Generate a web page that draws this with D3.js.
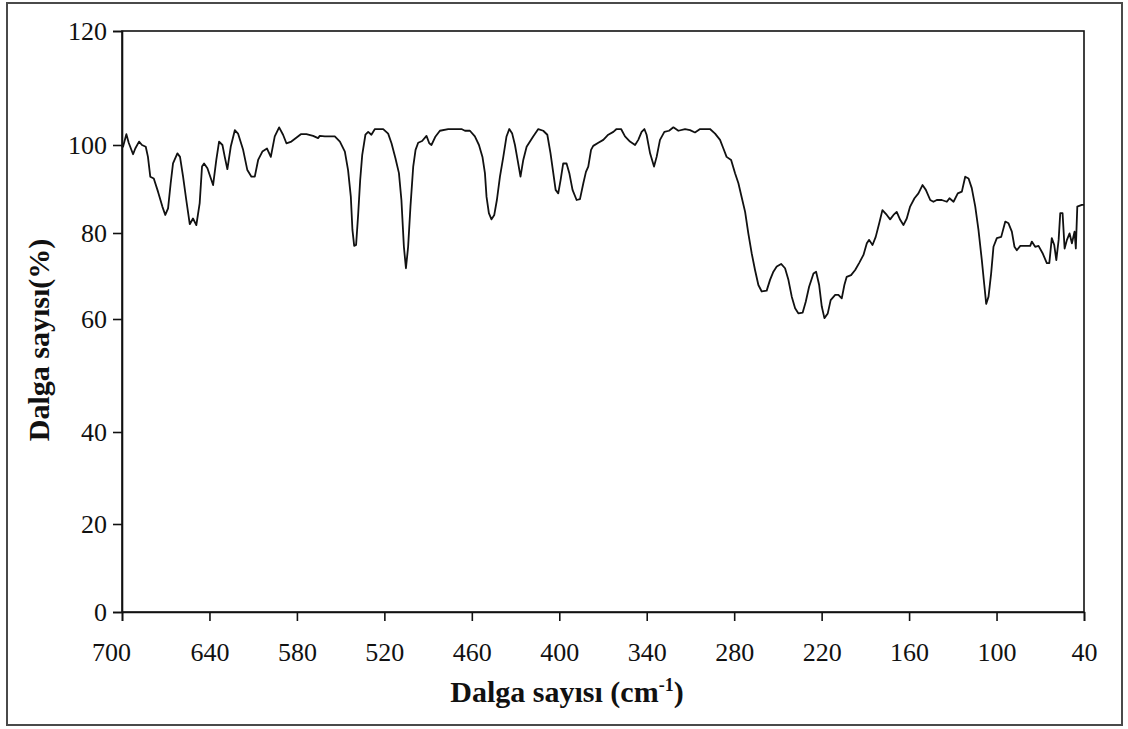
<!DOCTYPE html>
<html>
<head>
<meta charset="utf-8">
<script src="https://cdn.jsdelivr.net/npm/d3@7"></script>
<style>
  html, body { margin: 0; padding: 0; background: #fff; }
  svg { display: block; }
</style>
</head>
<body>
<svg id="chart" width="1128" height="729"></svg>
<script>
// Far-IR spectrum: wavenumber (cm-1) and transmittance (%)
const wavenumber = [
  700, 699.3, 697.0, 695.4, 692.4, 690.9, 688.3, 686.3, 683.7, 682.2,
  680.6, 678.2, 675.3, 672.3, 670.3, 668.4, 666.6, 665.0, 662.0, 660.2,
  658.1, 655.9, 653.5, 651.3, 649.0, 646.7, 645.1, 643.7, 641.4, 637.5,
  635.3, 633.4, 631.1, 629.5, 627.7, 625.4, 622.6, 620.4, 616.9, 614.0,
  611.2, 608.9, 606.6, 603.7, 600.5, 597.9, 595.2, 592.2, 589.5, 587.2,
  583.8, 577.3, 573.5, 568.9, 565.5, 564.3, 560.8, 554.0, 550.5, 547.1,
  544.9, 543.0, 541.9, 540.7, 539.4, 538.0, 536.6, 535.2, 533.0, 531.1,
  528.9, 526.5, 520.8, 517.4, 515.1, 512.4, 510.0, 508.3, 506.6, 505.2,
  503.7, 502.1, 500.2, 498.6, 496.8, 494.1, 491.1, 489.2, 487.7, 484.9,
  481.9, 476.2, 467.1, 464.7, 461.3, 457.9, 455.1, 452.7, 451.0, 449.9,
  448.3, 446.5, 444.6, 442.8, 440.7, 438.4, 436.2, 434.3, 432.3, 430.4,
  428.6, 426.6, 424.7, 422.4, 420.1, 417.9, 414.4, 411.0, 408.2, 406.0,
  404.1, 402.5, 400.7, 399.1, 397.3, 395.0, 393.1, 390.9, 388.1, 385.8,
  383.5, 381.7, 380.1, 378.2, 376.7, 373.2, 369.8, 366.4, 362.9, 360.7,
  357.6, 354.9, 351.5, 348.0, 345.8, 343.5, 341.6, 340.1, 337.7, 335.0,
  333.2, 330.9, 327.9, 324.7, 321.7, 318.3, 313.7, 310.3, 306.9, 303.4,
  296.6, 293.1, 289.7, 287.4, 285.2, 282.1, 279.4, 277.1, 274.9, 272.5,
  270.3, 268.0, 265.7, 263.4, 261.1, 257.7, 255.4, 253.1, 250.8, 247.8,
  245.1, 242.8, 240.5, 238.2, 235.9, 233.0, 230.9, 228.6, 225.6, 223.8,
  221.7, 219.9, 218.1, 215.8, 213.8, 210.7, 208.5, 206.2, 204.4, 202.8,
  199.8, 197.0, 194.3, 191.3, 189.0, 187.4, 185.1, 182.9, 180.5, 178.3,
  175.3, 173.0, 170.7, 168.5, 166.1, 163.9, 161.6, 159.3, 156.3, 153.6,
  150.8, 148.5, 145.5, 143.3, 141.0, 137.6, 134.1, 132.3, 129.5, 126.6,
  123.8, 121.5, 119.2, 117.0, 114.6, 112.4, 110.1, 108.4, 107.1, 105.5,
  103.7, 102.1, 99.8, 96.8, 94.0, 91.8, 89.5, 87.7, 86.1, 83.7,
  76.9, 75.8, 73.5, 71.2, 68.4, 65.5, 63.8, 62.1, 60.4, 59.0,
  57.4, 56.3, 54.7, 53.3, 51.7, 49.9, 48.3, 46.5, 45.6, 44.6,
  41.5, 40.0
];

const transmittance = [
  99.8, 99.6, 101.9, 100.4, 97.9, 99.2, 100.6, 100.0, 99.6, 97.3,
  92.8, 92.4, 89.4, 86.0, 84.1, 85.6, 91.3, 95.8, 98.1, 97.3,
  92.8, 87.5, 82.0, 83.3, 81.8, 86.8, 95.1, 95.8, 94.7, 90.9,
  96.6, 100.6, 100.0, 97.3, 94.5, 99.6, 102.6, 102.0, 98.9, 94.3,
  92.8, 92.8, 96.6, 98.5, 99.2, 97.3, 101.5, 103.1, 101.8, 100.3,
  100.6, 101.9, 101.9, 101.6, 101.2, 101.6, 101.5, 101.5, 100.6, 98.5,
  94.3, 88.2, 80.7, 77.0, 77.2, 84.1, 92.0, 97.7, 101.8, 102.3,
  101.8, 102.8, 102.8, 102.0, 100.3, 97.0, 93.6, 87.5, 76.8, 71.8,
  76.8, 86.0, 95.1, 98.9, 100.4, 100.7, 101.6, 100.3, 100.0, 101.5,
  102.5, 102.8, 102.8, 102.5, 102.5, 101.5, 100.0, 97.3, 93.6, 88.2,
  84.5, 83.1, 84.1, 87.5, 92.8, 97.3, 101.5, 102.8, 102.0, 100.0,
  96.6, 92.8, 96.6, 99.6, 100.6, 101.5, 102.8, 102.5, 101.8, 98.1,
  93.6, 89.8, 89.0, 92.0, 95.8, 95.8, 93.6, 89.8, 87.5, 87.7,
  91.3, 93.9, 95.1, 98.9, 99.8, 100.4, 100.9, 101.8, 102.3, 102.8,
  102.8, 101.5, 100.6, 100.0, 100.9, 102.3, 102.8, 101.8, 98.1, 95.1,
  97.3, 100.9, 102.3, 102.5, 103.1, 102.5, 102.8, 102.6, 102.2, 102.8,
  102.8, 102.0, 100.9, 99.2, 97.3, 96.6, 93.6, 91.3, 88.2, 84.8,
  79.9, 75.3, 71.4, 67.9, 66.4, 66.6, 69.1, 71.0, 72.2, 72.8,
  71.8, 69.1, 65.2, 62.5, 61.3, 61.5, 64.0, 67.5, 70.6, 71.0,
  67.9, 62.9, 60.2, 61.3, 64.4, 65.6, 65.6, 64.8, 67.9, 69.8,
  70.2, 71.4, 73.0, 74.9, 77.6, 78.4, 77.2, 79.1, 82.2, 85.2,
  84.1, 83.1, 84.1, 84.8, 83.0, 81.8, 83.3, 86.0, 87.9, 89.0,
  90.9, 89.8, 87.5, 87.1, 87.5, 87.5, 87.1, 87.9, 87.1, 89.0,
  89.4, 92.8, 92.4, 90.2, 86.0, 80.7, 73.7, 67.9, 63.5, 65.2,
  70.6, 76.8, 78.8, 79.1, 82.6, 82.2, 80.3, 76.8, 76.0, 77.0,
  77.0, 78.0, 76.8, 77.0, 75.3, 73.0, 73.0, 78.8, 77.2, 73.7,
  78.4, 84.5, 84.5, 76.4, 78.4, 79.9, 77.6, 80.3, 76.4, 86.0,
  86.4, 86.4
];

const xTickValues = [700, 640, 580, 520, 460, 400, 340, 280, 220, 160, 100, 40];
const yTickValues = [0, 20, 40, 60, 80, 100, 120];

const xTitle = "Dalga sayısı (cm";
const xTitleSup = "-1";
const yTitle = "Dalga sayısı(%)";

const svg = d3.select("#chart");
const serif = "'Liberation Serif', 'Times New Roman', serif";

const plot = { left: 122, right: 1084, top: 31, bottom: 612 };

// outer frame of the figure
svg.append("rect")
  .attr("x", 7).attr("y", 3)
  .attr("width", 1115).attr("height", 722)
  .attr("fill", "#fff")
  .attr("stroke", "#4a4a4a")
  .attr("stroke-width", 2);

// wavenumber axis runs high to low
const x = d3.scaleLinear()
  .domain([700, 40])
  .range([plot.left, plot.right]);

// the percentage axis is graduated unevenly, so map each tick to its own position
const y = d3.scaleLinear()
  .domain(yTickValues)
  .range([612, 524, 432, 319, 233, 145, 31]);

// plot box
svg.append("rect")
  .attr("x", plot.left).attr("y", plot.top)
  .attr("width", plot.right - plot.left)
  .attr("height", plot.bottom - plot.top)
  .attr("fill", "none")
  .attr("stroke", "#111")
  .attr("stroke-width", 1.6);

const xAxis = svg.append("g")
  .attr("transform", `translate(0,${plot.bottom})`)
  .call(d3.axisBottom(x).tickValues(xTickValues).tickSize(9).tickPadding(22).tickFormat(d3.format("d")));

const yAxis = svg.append("g")
  .attr("transform", `translate(${plot.left},0)`)
  .call(d3.axisLeft(y).tickValues(yTickValues).tickSize(9).tickPadding(6).tickFormat(d3.format("d")));

[xAxis, yAxis].forEach(g => {
  g.select(".domain").attr("stroke", "#111").attr("stroke-width", 1.6);
  g.selectAll(".tick line").attr("stroke", "#111").attr("stroke-width", 1.6);
  g.selectAll(".tick text")
    .attr("fill", "#111")
    .style("font-family", serif)
    .style("font-size", "26px");
});
yAxis.selectAll(".tick text").attr("dy", "0.34em");
xAxis.selectAll(".tick text").filter(d => d === 700).attr("dx", -11);

// spectrum trace
const points = wavenumber.map((w, i) => [w, transmittance[i]]);
svg.append("path")
  .datum(points)
  .attr("fill", "none")
  .attr("stroke", "#111")
  .attr("stroke-width", 1.8)
  .attr("stroke-linejoin", "round")
  .attr("d", d3.line().x(d => x(d[0])).y(d => y(d[1])));

// axis titles
const xt = svg.append("text")
  .attr("x", 567).attr("y", 702)
  .attr("text-anchor", "middle")
  .style("font-family", serif)
  .style("font-size", "30px")
  .style("font-weight", "bold")
  .attr("fill", "#111");
xt.append("tspan").text(xTitle);
xt.append("tspan").text(xTitleSup).attr("dy", -11).style("font-size", "18px");
xt.append("tspan").text(")").attr("dy", 11);

svg.append("text")
  .attr("transform", "translate(49,340) rotate(-90)")
  .attr("text-anchor", "middle")
  .style("font-family", serif)
  .style("font-size", "30px")
  .style("font-weight", "bold")
  .attr("fill", "#111")
  .text(yTitle);
</script>
</body>
</html>
